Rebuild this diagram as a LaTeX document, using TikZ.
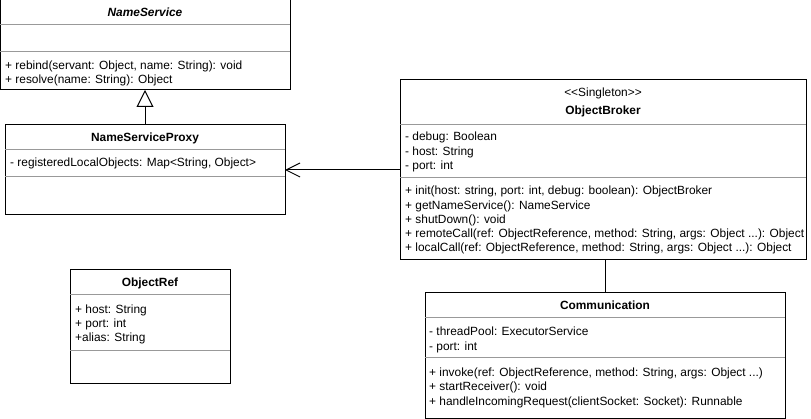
\documentclass[tikz,border=0pt]{standalone}
\usepackage{fontspec}
\newfontfamily\umlfont{Liberation Sans}
\usetikzlibrary{arrows.meta}
\begin{document}
\begin{tikzpicture}[x=1pt,y=-1pt,
  classbox/.style={draw=black, line width=1pt, anchor=north west, inner sep=0pt, outer sep=0pt, fill=white},
  sepline/.style={draw=black!40, line width=1pt},
  member/.style={anchor=base west, yshift=-4.2pt, inner sep=0pt, font=\umlfont\fontsize{11.9}{14}\selectfont, text=black},
  title/.style={anchor=base, yshift=-4.2pt, inner sep=0pt, font=\umlfont\fontsize{11.9}{14}\selectfont\bfseries, text=black},
  conn/.style={draw=black, line width=1pt}]
\useasboundingbox (0,0) rectangle (811,419);

% NameService
\node[classbox, minimum width=290pt, minimum height=90pt] (ns) at (0,0) {};
\node[title, font=\umlfont\fontsize{11.9}{14}\selectfont\bfseries\itshape] (nsT) at (145,12) {NameService};
\draw[sepline] ([yshift=-25pt]ns.north west) -- ([yshift=-25pt]ns.north east);
\draw[sepline] ([yshift=-52pt]ns.north west) -- ([yshift=-52pt]ns.north east);
\node[member] (nsM1) at (5,65) {+ rebind(servant: Object, name: String): void};
\node[member] (nsM2) at (5,79) {+ resolve(name: String): Object};

% NameServiceProxy
\node[classbox, minimum width=280pt, minimum height=90pt] (nsp) at (5,125) {};
\node[title] (nspT) at (145,137) {NameServiceProxy};
\draw[sepline] ([yshift=-25pt]nsp.north west) -- ([yshift=-25pt]nsp.north east);
\node[member] (nspA1) at (10,162) {- registeredLocalObjects: Map<String, Object>};
\draw[sepline] ([yshift=-52pt]nsp.north west) -- ([yshift=-52pt]nsp.north east);

% ObjectBroker
\node[classbox, minimum width=406pt, minimum height=180pt] (ob) at (400,80) {};
\node[member, anchor=base] (obS) at (603,92) {<<Singleton>>};
\node[title] (obT) at (603,110) {ObjectBroker};
\draw[sepline] ([yshift=-45pt]ob.north west) -- ([yshift=-45pt]ob.north east);
\node[member] (obA1) at (405,136) {- debug: Boolean};
\node[member] (obA2) at (405,151) {- host: String};
\node[member] (obA3) at (405,165) {- port: int};
\draw[sepline] ([yshift=-98pt]ob.north west) -- ([yshift=-98pt]ob.north east);
\node[member] (obM1) at (405,190) {+ init(host: string, port: int, debug: boolean): ObjectBroker};
\node[member] (obM2) at (405,205) {+ getNameService(): NameService};
\node[member] (obM3) at (405,219) {+ shutDown(): void};
\node[member] (obM4) at (405,233) {+ remoteCall(ref: ObjectReference, method: String, args: Object ...): Object};
\node[member] (obM5) at (405,247) {+ localCall(ref: ObjectReference, method: String, args: Object ...): Object};

% Communication
\node[classbox, minimum width=360pt, minimum height=125pt] (com) at (425,293) {};
\node[title] (comT) at (605,305) {Communication};
\draw[sepline] ([yshift=-25pt]com.north west) -- ([yshift=-25pt]com.north east);
\node[member] (comA1) at (429,331) {- threadPool: ExecutorService};
\node[member] (comA2) at (429,346) {- port: int};
\draw[sepline] ([yshift=-65pt]com.north west) -- ([yshift=-65pt]com.north east);
\node[member] (comM1) at (429,372) {+ invoke(ref: ObjectReference, method: String, args: Object ...)};
\node[member] (comM2) at (429,386) {+ startReceiver(): void};
\node[member] (comM3) at (429,401) {+ handleIncomingRequest(clientSocket: Socket): Runnable};

% ObjectRef
\node[classbox, minimum width=160pt, minimum height=114pt] (orf) at (70,270) {};
\node[title] (orfT) at (150,282) {ObjectRef};
\draw[sepline] ([yshift=-25pt]orf.north west) -- ([yshift=-25pt]orf.north east);
\node[member] (orfA1) at (75,309) {+ host: String};
\node[member] (orfA2) at (75,323) {+ port: int};
\node[member] (orfA3) at (75,337) {+alias: String};
\draw[sepline] ([yshift=-81pt]orf.north west) -- ([yshift=-81pt]orf.north east);

% connectors
\draw[conn, -{Triangle[open, length=17pt, width=17pt, line width=1pt]}] (nsp.north) -- (ns.south);
\draw[conn, -{Straight Barb[length=14pt, width=14pt, line width=1pt]}] (ob.west) -- (nsp.east);
\draw[conn] (com.north) -- (ob.south -| com.north);
\end{tikzpicture}
\end{document}
